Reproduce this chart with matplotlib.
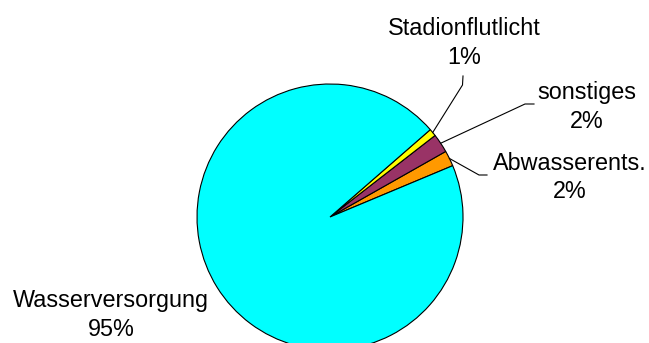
import matplotlib
matplotlib.use("Agg")
import matplotlib.pyplot as plt
import numpy as np

categories = ["Abwasserents.", "sonstiges", "Stadionflutlicht", "Wasserversorgung"]
values = [1.9, 2.3, 0.9, 94.9]
colors = ["#FF9900", "#993366", "#FFFF00", "#00FFFF"]

W, H = 649, 343
fig = plt.figure(figsize=(W / 100, H / 100), dpi=100)
ax = fig.add_axes([0, 0, 1, 1])


def fy(y):
    # convert pixel-from-top to data y
    return H - y


cx, cy, R = 330, fy(217), 133
wedges, _ = ax.pie(values, colors=colors, startangle=22.7, counterclock=True,
                   center=(cx, cy), radius=R,
                   wedgeprops=dict(edgecolor="black", linewidth=0.8))
ax.set_xlim(0, W)
ax.set_ylim(0, H)
ax.set_aspect("equal")
ax.axis("off")

# label layout: (text center x, text center y (px from top), elbow points)
layout = {
    "Stadionflutlicht": (464, 43, [(462.5, 85), (463, 76)]),
    "sonstiges": (587, 107, [(525, 104), (534, 104)]),
    "Abwasserents.": (570, 177.5, [(479, 175), (487, 175)]),
    "Wasserversorgung": (111, 315, None),
}

total = sum(values)
for w, cat, v in zip(wedges, categories, values):
    tx, ty, pts = layout[cat]
    ax.text(tx, fy(ty), f"{cat}\n{round(v / total * 100)}%", ha="center", va="center",
            fontsize=16.8, family=["Liberation Sans", "DejaVu Sans"], linespacing=1.3)
    if pts:
        mid = np.deg2rad((w.theta1 + w.theta2) / 2)
        sx = cx + R * np.cos(mid)
        sy = cy + R * np.sin(mid)
        xs = [sx] + [p[0] for p in pts]
        ys = [sy] + [fy(p[1]) for p in pts]
        ax.plot(xs, ys, color="black", linewidth=0.8)

fig.savefig("out.png", dpi=100)
